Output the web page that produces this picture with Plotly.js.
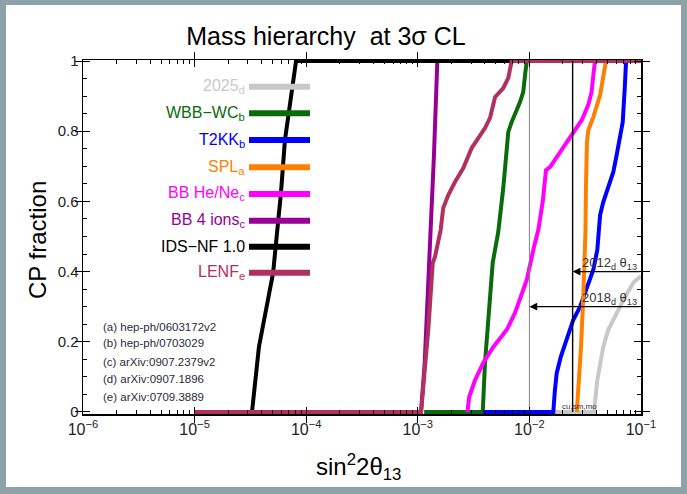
<!DOCTYPE html>
<html>
<head>
<meta charset="utf-8">
<script src="https://cdn.plot.ly/plotly-3.0.1.min.js"></script>
<style>
  html, body { margin: 0; padding: 0; background: #8da2a6; }
  #chart { width: 687px; height: 494px; }
</style>
</head>
<body>
<div id="chart"></div>
<script>
// CP fraction reached vs. sin^2(2 theta13) for each experiment setup
const x2025 = [0.0170, 0.0379, 0.0406, 0.0430, 0.0459, 0.0509, 0.0605, 0.0720, 0.0853, 0.1];
const y2025 = [0, 0, 0.091, 0.140, 0.185, 0.234, 0.282, 0.328, 0.368, 0.387];

const xWBB = [0.00114, 0.00382, 0.00400, 0.00444, 0.00469, 0.00526, 0.00583, 0.00647, 0.00693, 0.00824, 0.00881, 0.00914, 0.00947, 0.1];
const yWBB = [0, 0, 0.140, 0.328, 0.425, 0.513, 0.638, 0.798, 0.826, 0.883, 0.912, 0.960, 1, 1];

const xT2KK = [0.00382, 0.01637, 0.01694, 0.01758, 0.01911, 0.0216, 0.0247, 0.0284, 0.0337, 0.0374, 0.0406, 0.0421, 0.0430, 0.0459, 0.0509, 0.0565, 0.0605, 0.0658, 0.0686, 0.0715, 0.0735, 0.1];
const yT2KK = [0, 0, 0.063, 0.111, 0.157, 0.205, 0.262, 0.299, 0.368, 0.405, 0.462, 0.519, 0.561, 0.598, 0.638, 0.684, 0.732, 0.798, 0.826, 0.923, 1, 1];

const xSPL = [0.0266, 0.0278, 0.0290, 0.0304, 0.0318, 0.0321, 0.0328, 0.0337, 0.0374, 0.0430, 0.0454, 0.0485, 0.1];
const ySPL = [0, 0.091, 0.185, 0.328, 0.513, 0.638, 0.769, 0.803, 0.840, 0.903, 0.946, 1, 1];

const xHeNe = [0.00278, 0.00289, 0.00326, 0.00386, 0.00475, 0.00627, 0.00743, 0.00946, 0.01099, 0.01202, 0.01315, 0.01409, 0.01531, 0.0239, 0.0295, 0.0337, 0.0361, 0.0374, 0.0387, 0.1];
const yHeNe = [0, 0.043, 0.091, 0.140, 0.185, 0.234, 0.282, 0.376, 0.470, 0.519, 0.598, 0.689, 0.698, 0.789, 0.832, 0.875, 0.912, 0.960, 1, 1];

const x4ions = [1e-5, 0.001069, 0.001153, 0.001216, 0.001300, 0.001396, 0.001496, 0.1];
const y4ions = [0, 0, 0.140, 0.328, 0.513, 0.732, 1, 1];

const xIDS = [3.27e-5, 3.77e-5, 5.05e-5, 5.70e-5, 5.94e-5, 6.45e-5, 7.62e-5, 8.11e-5, 0.1];
const yIDS = [0, 0.185, 0.396, 0.547, 0.624, 0.775, 0.926, 1, 1];

const xLENF = [1e-5, 0.001069, 0.001242, 0.001362, 0.001426, 0.001603, 0.001690, 0.001875, 0.002153, 0.002558, 0.00304, 0.00400, 0.00444, 0.00492, 0.00583, 0.00647, 0.00693, 0.1];
const yLENF = [0, 0, 0.234, 0.425, 0.442, 0.519, 0.581, 0.618, 0.655, 0.695, 0.752, 0.809, 0.838, 0.897, 0.923, 0.952, 1, 1];

// theta13 reference values
const theta2018 = 0.01;
const theta2012 = 0.0244;
const arrow2018Y = 0.3;
const arrow2012Y = 0.4;

const legendNames = ['2025<sub>d</sub>', 'WBB\u2212WC<sub>b</sub>', 'T2KK<sub>b</sub>', 'SPL<sub>a</sub>',
                     'BB He/Ne<sub>c</sub>', 'BB 4 ions<sub>c</sub>', 'IDS\u2212NF 1.0', 'LENF<sub>e</sub>'];
const colors = ['#c8c8c8', '#0a6b0a', '#0000ff', '#ff8000', '#ff00ff', '#960096', '#000000', '#b03060'];
const refs = ['(a) hep-ph/0603172v2', '(b) hep-ph/0703029', '(c) arXiv:0907.2379v2',
              '(d) arXiv:0907.1896', '(e) arXiv:0709.3889'];
const xTicks = [1e-6, 1e-5, 1e-4, 1e-3, 1e-2, 1e-1];
const xTickText = ['10<sup>\u22126</sup>', '10<sup>\u22125</sup>', '10<sup>\u22124</sup>',
                   '10<sup>\u22123</sup>', '10<sup>\u22122</sup>', '10<sup>\u22121</sup>'];
const yTicks = [0, 0.2, 0.4, 0.6, 0.8, 1];
const yTickText = ['0', '0.2', '0.4', '0.6', '0.8', '1'];

const seriesX = [x2025, xWBB, xT2KK, xSPL, xHeNe, x4ions, xIDS, xLENF];
const seriesY = [y2025, yWBB, yT2KK, ySPL, yHeNe, y4ions, yIDS, yLENF];

// plot area in page pixels
const W = 687, H = 494;
const L = 83, R = 641, T = 60, B = 414;
const px = v => (v - L) / (R - L);
const py = v => (B - v) / (B - T);
const FONT = 'Liberation Sans, Arial, sans-serif';
const X_RANGE = [-6, -1];
const Y_RANGE = [-0.006, 1.003];

const traces = [];
// reference theta13 verticals (each sits on an overlay axis that carries the minor ticks)
traces.push({x: [theta2018, theta2018], y: [0, 1], xaxis: 'x2', yaxis: 'y', mode: 'lines',
  line: {color: '#808080', width: 1}, hoverinfo: 'skip', showlegend: false});
traces.push({x: [theta2012, theta2012], y: [0, 1], xaxis: 'x', yaxis: 'y2', mode: 'lines',
  line: {color: '#000000', width: 1.4}, hoverinfo: 'skip', showlegend: false});

seriesX.forEach((xs, i) => {
  traces.push({
    x: xs, y: seriesY[i], mode: 'lines', name: legendNames[i],
    line: {color: colors[i], width: 4}, showlegend: false
  });
});

const annotations = [];
const shapes = [];

// white page panel inside the frame
shapes.push({type: 'rect', xref: 'paper', yref: 'paper', layer: 'below',
  x0: px(6), x1: px(681), y0: py(487), y1: py(5), fillcolor: '#ffffff', line: {width: 0}});

// legend: label on the left, colour bar on the right
const legY = [86.7, 113.3, 140, 167.3, 194, 220.7, 246.7, 272.7];
legendNames.forEach((name, i) => {
  annotations.push({xref: 'paper', yref: 'paper', x: px(247), y: py(legY[i]), xanchor: 'right', yanchor: 'middle',
    text: name, showarrow: false, font: {family: FONT, size: 16, color: colors[i]}});
  shapes.push({type: 'line', xref: 'paper', yref: 'paper', x0: px(249), x1: px(310), y0: py(legY[i]), y1: py(legY[i]),
    line: {color: colors[i], width: 6}});
});

// reference list
const refY = [326.7, 343.3, 361.7, 379.3, 396.7];
refs.forEach((t, i) => {
  annotations.push({xref: 'paper', yref: 'paper', x: px(101), y: py(refY[i]), xanchor: 'left', yanchor: 'middle',
    text: t, showarrow: false, font: {family: FONT, size: 11.5, color: '#2a2a3a'}});
});

// theta13 arrows and labels
annotations.push({x: Math.log10(theta2012), y: arrow2012Y, xref: 'x', yref: 'y', ax: -1, ay: arrow2012Y, axref: 'x', ayref: 'y',
  text: '', showarrow: true, arrowhead: 2, arrowsize: 1.2, arrowwidth: 1.3, arrowcolor: '#000'});
annotations.push({x: Math.log10(theta2018), y: arrow2018Y, xref: 'x', yref: 'y', ax: -1, ay: arrow2018Y, axref: 'x', ayref: 'y',
  text: '', showarrow: true, arrowhead: 2, arrowsize: 1.2, arrowwidth: 1.3, arrowcolor: '#000'});
annotations.push({xref: 'paper', yref: 'paper', x: px(639), y: py(263), xanchor: 'right', yanchor: 'middle',
  text: '2012<sub>d</sub> \u03b8<sub>13</sub>', showarrow: false, font: {family: FONT, size: 13, color: '#333'}});
annotations.push({xref: 'paper', yref: 'paper', x: px(639), y: py(298), xanchor: 'right', yanchor: 'middle',
  text: '2018<sub>d</sub> \u03b8<sub>13</sub>', showarrow: false, font: {family: FONT, size: 13, color: '#333'}});
annotations.push({xref: 'paper', yref: 'paper', x: px(560), y: py(406), xanchor: 'left', yanchor: 'middle',
  text: 'cu,sm,mo', showarrow: false, font: {family: FONT, size: 8, color: '#333'}});

// axis titles
annotations.push({xref: 'paper', yref: 'paper', x: px(37), y: py(240), xanchor: 'center', yanchor: 'middle', textangle: -90,
  text: 'CP fraction', showarrow: false, font: {family: FONT, size: 24, color: '#000'}});
annotations.push({xref: 'paper', yref: 'paper', x: px(358), y: py(467), xanchor: 'center', yanchor: 'middle',
  text: 'sin<sup>2</sup>2\u03b8<sub>13</sub>', showarrow: false, font: {family: FONT, size: 24, color: '#000'}});

const layout = {
  width: W, height: H,
  margin: {l: L, r: W - R, t: T, b: H - B, pad: 0},
  paper_bgcolor: '#8da2a6',
  plot_bgcolor: '#ffffff',
  showlegend: false,
  title: {text: 'Mass hierarchy \u00a0at 3\u03c3 CL', x: 326 / W, y: 1 - 36 / H, xanchor: 'center', yanchor: 'middle',
    font: {family: FONT, size: 25, color: '#000'}},
  xaxis: {
    type: 'log', range: X_RANGE, tickvals: xTicks, ticktext: xTickText,
    ticks: 'inside', ticklen: 7, tickwidth: 1, tickcolor: '#000',
    showline: true, linecolor: '#000', linewidth: 1.5, mirror: 'allticks', showgrid: false, zeroline: false,
    tickfont: {family: FONT, size: 16, color: '#222'}
  },
  xaxis2: {
    type: 'log', range: X_RANGE, overlaying: 'x', anchor: 'y', dtick: 'D1',
    ticks: 'inside', ticklen: 4, tickwidth: 1, tickcolor: '#000', showticklabels: false,
    showline: false, mirror: 'allticks', showgrid: false, zeroline: false
  },
  yaxis: {
    range: Y_RANGE, tickvals: yTicks, ticktext: yTickText,
    ticks: 'inside', ticklen: 7, tickwidth: 1, tickcolor: '#000',
    showline: true, linecolor: '#000', linewidth: 1.5, mirror: 'allticks', showgrid: false, zeroline: false,
    tickfont: {family: FONT, size: 15, color: '#222'}
  },
  yaxis2: {
    range: Y_RANGE, overlaying: 'y', anchor: 'x', tick0: 0, dtick: 0.05,
    ticks: 'inside', ticklen: 4, tickwidth: 1, tickcolor: '#000', showticklabels: false,
    showline: false, mirror: 'allticks', showgrid: false, zeroline: false
  },
  shapes: shapes,
  annotations: annotations
};

Plotly.newPlot('chart', traces, layout, {displayModeBar: false, staticPlot: true});
</script>
</body>
</html>
